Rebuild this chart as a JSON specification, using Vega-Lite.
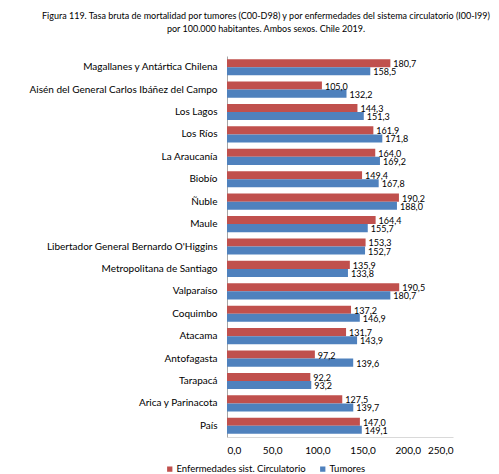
{
  "$schema": "https://vega.github.io/schema/vega-lite/v6.json",
  "autosize": {"type": "none"},
  "width": 226,
  "height": 381,
  "padding": {"left": 227, "top": 56, "right": 46, "bottom": 37},
  "background": "white",
  "title": {
    "text": ["Figura 119. Tasa bruta de mortalidad por tumores (C00-D98) y por enfermedades del sistema circulatorio (I00-I99)", "por 100.000 habitantes. Ambos sexos. Chile 2019."],
    "anchor": "middle",
    "dx": -74,
    "offset": 22,
    "fontSize": 9,
    "fontWeight": "normal",
    "font": "Lato",
    "lineHeight": 13,
    "color": "#000000"
  },
  "config": {
    "locale": {"number": {"decimal": ",", "thousands": ".", "grouping": [3], "currency": ["", ""]}},
    "view": {"stroke": null},
    "font": "Lato"
  },
  "data": {
    "values": [
      {"region": "Magallanes y Antártica Chilena", "serie": "Enfermedades sist. Circulatorio", "valor": 180.7},
      {"region": "Magallanes y Antártica Chilena", "serie": "Tumores", "valor": 158.5},
      {"region": "Aisén del General Carlos Ibáñez del Campo", "serie": "Enfermedades sist. Circulatorio", "valor": 105.0},
      {"region": "Aisén del General Carlos Ibáñez del Campo", "serie": "Tumores", "valor": 132.2},
      {"region": "Los Lagos", "serie": "Enfermedades sist. Circulatorio", "valor": 144.3},
      {"region": "Los Lagos", "serie": "Tumores", "valor": 151.3},
      {"region": "Los Ríos", "serie": "Enfermedades sist. Circulatorio", "valor": 161.9},
      {"region": "Los Ríos", "serie": "Tumores", "valor": 171.8},
      {"region": "La Araucanía", "serie": "Enfermedades sist. Circulatorio", "valor": 164.0},
      {"region": "La Araucanía", "serie": "Tumores", "valor": 169.2},
      {"region": "Biobío", "serie": "Enfermedades sist. Circulatorio", "valor": 149.4},
      {"region": "Biobío", "serie": "Tumores", "valor": 167.8},
      {"region": "Ñuble", "serie": "Enfermedades sist. Circulatorio", "valor": 190.2},
      {"region": "Ñuble", "serie": "Tumores", "valor": 188.0},
      {"region": "Maule", "serie": "Enfermedades sist. Circulatorio", "valor": 164.4},
      {"region": "Maule", "serie": "Tumores", "valor": 155.7},
      {"region": "Libertador General Bernardo O'Higgins", "serie": "Enfermedades sist. Circulatorio", "valor": 153.3},
      {"region": "Libertador General Bernardo O'Higgins", "serie": "Tumores", "valor": 152.7},
      {"region": "Metropolitana de Santiago", "serie": "Enfermedades sist. Circulatorio", "valor": 135.9},
      {"region": "Metropolitana de Santiago", "serie": "Tumores", "valor": 133.8},
      {"region": "Valparaíso", "serie": "Enfermedades sist. Circulatorio", "valor": 190.5},
      {"region": "Valparaíso", "serie": "Tumores", "valor": 180.7},
      {"region": "Coquimbo", "serie": "Enfermedades sist. Circulatorio", "valor": 137.2},
      {"region": "Coquimbo", "serie": "Tumores", "valor": 146.9},
      {"region": "Atacama", "serie": "Enfermedades sist. Circulatorio", "valor": 131.7},
      {"region": "Atacama", "serie": "Tumores", "valor": 143.9},
      {"region": "Antofagasta", "serie": "Enfermedades sist. Circulatorio", "valor": 97.2},
      {"region": "Antofagasta", "serie": "Tumores", "valor": 139.6},
      {"region": "Tarapacá", "serie": "Enfermedades sist. Circulatorio", "valor": 92.2},
      {"region": "Tarapacá", "serie": "Tumores", "valor": 93.2},
      {"region": "Arica y Parinacota", "serie": "Enfermedades sist. Circulatorio", "valor": 127.5},
      {"region": "Arica y Parinacota", "serie": "Tumores", "valor": 139.7},
      {"region": "País", "serie": "Enfermedades sist. Circulatorio", "valor": 147.0},
      {"region": "País", "serie": "Tumores", "valor": 149.1}
    ]
  },
  "encoding": {
    "y": {
      "field": "region", "type": "nominal", "sort": null,
      "scale": {"paddingInner": 0.28, "paddingOuter": 0.14},
      "axis": {
        "title": null, "ticks": false, "labelFontSize": 10, "labelColor": "#000000",
        "labelPadding": 10, "domainColor": "#a6a6a6", "labelLimit": 250, "labelFont": "Lato"
      }
    },
    "yOffset": {"field": "serie", "type": "nominal", "sort": ["Enfermedades sist. Circulatorio", "Tumores"], "scale": {"paddingInner": 0, "paddingOuter": 0}},
    "x": {
      "field": "valor", "type": "quantitative",
      "scale": {"domain": [0, 250]},
      "axis": {
        "title": null, "values": [0, 50, 100, 150, 200, 250], "format": ".1f",
        "grid": false, "domain": true, "domainColor": "#d9d9d9", "ticks": false, "labelFontSize": 10,
        "labelColor": "#000000", "labelPadding": 8, "labelFont": "Lato"
      }
    }
  },
  "layer": [
    {
      "mark": {"type": "bar"},
      "encoding": {
        "color": {
          "field": "serie", "type": "nominal",
          "sort": ["Enfermedades sist. Circulatorio", "Tumores"],
          "scale": {"domain": ["Enfermedades sist. Circulatorio", "Tumores"], "range": ["#c0504d", "#4f81bd"]},
          "legend": {
            "title": null, "orient": "none", "direction": "horizontal",
            "legendX": -62, "legendY": 408, "symbolType": "square", "symbolSize": 28,
            "labelOffset": 2, "labelFontSize": 9.5, "labelColor": "#000000", "columnPadding": 12, "labelFont": "Lato"
          }
        }
      }
    },
    {
      "mark": {"type": "text", "align": "left", "baseline": "middle", "dx": 3, "dy": 1, "fontSize": 9, "color": "#000000", "font": "Lato"},
      "encoding": {
        "text": {"field": "valor", "type": "quantitative", "format": ".1f"}
      }
    }
  ]
}
